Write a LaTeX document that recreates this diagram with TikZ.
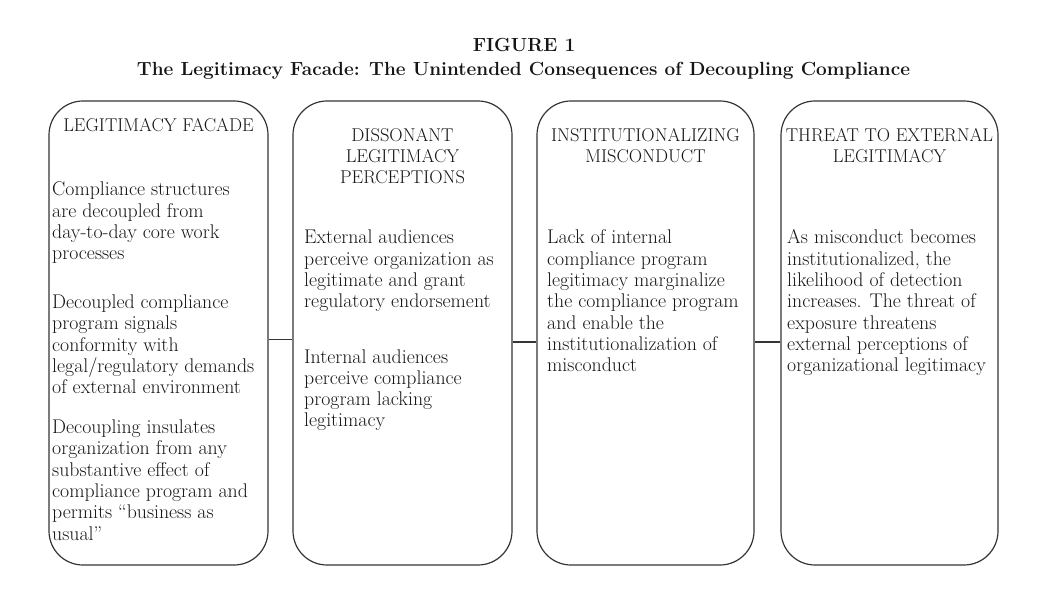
\documentclass[tikz,border=0pt]{standalone}
\definecolor{ink}{HTML}{161616}
\definecolor{boxline}{HTML}{353535}
\newcommand\bodyfont{\fontsize{19.8}{21.3}\selectfont}
\newcommand\headfont{\fontsize{18.5}{21}\selectfont}
\newcommand\capfont{\fontsize{19}{24}\selectfont\bfseries}
\begin{document}
\begin{tikzpicture}[x=1pt,y=-1pt,
  stage/.style={draw=boxline, line width=1.2pt, rounded corners=34pt,
    minimum height=464pt, inner sep=0pt},
  link/.style={draw=boxline, line width=1.2pt},
  heading/.style={anchor=base, inner sep=0pt, font=\headfont, text=ink},
  body/.style={anchor=base west, inner sep=0pt, font=\bodyfont, text=ink},
  caption/.style={anchor=base, inner sep=0pt, font=\capfont, text=ink}]
\useasboundingbox[fill=white] (0,0) rectangle (1048,609);

% figure caption
\node[caption] (fignum) at (524,52) {FIGURE 1};
\node[caption] (figtitle) at (523.5,76)
  {The Legitimacy Facade: The Unintended Consequences of Decoupling Compliance};

% the four stages
\node[stage, minimum width=219pt] (facade)     at (158.5,333) {};
\node[stage, minimum width=219pt] (dissonant)  at (402.5,333) {};
\node[stage, minimum width=217pt] (institution) at (645.5,333) {};
\node[stage, minimum width=217pt] (threat)     at (889.5,333) {};

% connectors between stages
\draw[link] ([yshift=-6.5pt]facade.east) -- ([yshift=-6.5pt]dissonant.west);
\draw[link] ([yshift=-9pt]dissonant.east) -- ([yshift=-9pt]institution.west);
\draw[link] ([yshift=-9pt]institution.east) -- ([yshift=-9pt]threat.west);

% stage 1
\node[heading] (facadehead) at (158.5,132)
  {\parbox[t]{215pt}{\centering LEGITIMACY FACADE}};
\node[body] (facadeA) at (52,196)
  {\parbox[t]{214pt}{\raggedright Compliance structures\\ are decoupled from\\ day-to-day core work\\ processes}};
\node[body] (facadeB) at (52,308.5)
  {\parbox[t]{214pt}{\raggedright Decoupled compliance\\ program signals\\ conformity with\\ legal/regulatory demands\\ of external environment}};
\node[body] (facadeC) at (52,433.5)
  {\parbox[t]{214pt}{\raggedright Decoupling insulates\\ organization from any\\ substantive effect of\\ compliance program and\\ permits ``business as\\ usual''}};

% stage 2
\node[heading] (dissonanthead) at (402.5,142)
  {\parbox[t]{215pt}{\centering DISSONANT\\ LEGITIMACY\\ PERCEPTIONS}};
\node[body] (dissonantA) at (304,244)
  {\parbox[t]{214pt}{\raggedright External audiences\\ perceive organization as\\ legitimate and grant\\ regulatory endorsement}};
\node[body] (dissonantB) at (304,363)
  {\parbox[t]{214pt}{\raggedright Internal audiences\\ perceive compliance\\ program lacking\\ legitimacy}};

% stage 3
\node[heading] (institutionhead) at (645.5,142)
  {\parbox[t]{215pt}{\centering INSTITUTIONALIZING\\ MISCONDUCT}};
\node[body] (institutionA) at (547,244)
  {\parbox[t]{214pt}{\raggedright Lack of internal\\ compliance program\\ legitimacy marginalize\\ the compliance program\\ and enable the\\ institutionalization of\\ misconduct}};

% stage 4
\node[heading] (threathead) at (889.5,142)
  {\parbox[t]{215pt}{\centering THREAT TO EXTERNAL\\ LEGITIMACY}};
\node[body] (threatA) at (787,244)
  {\parbox[t]{214pt}{\raggedright As misconduct becomes\\ institutionalized, the\\ likelihood of detection\\ increases. The threat of\\ exposure threatens\\ external perceptions of\\ organizational legitimacy}};
\end{tikzpicture}
\end{document}
